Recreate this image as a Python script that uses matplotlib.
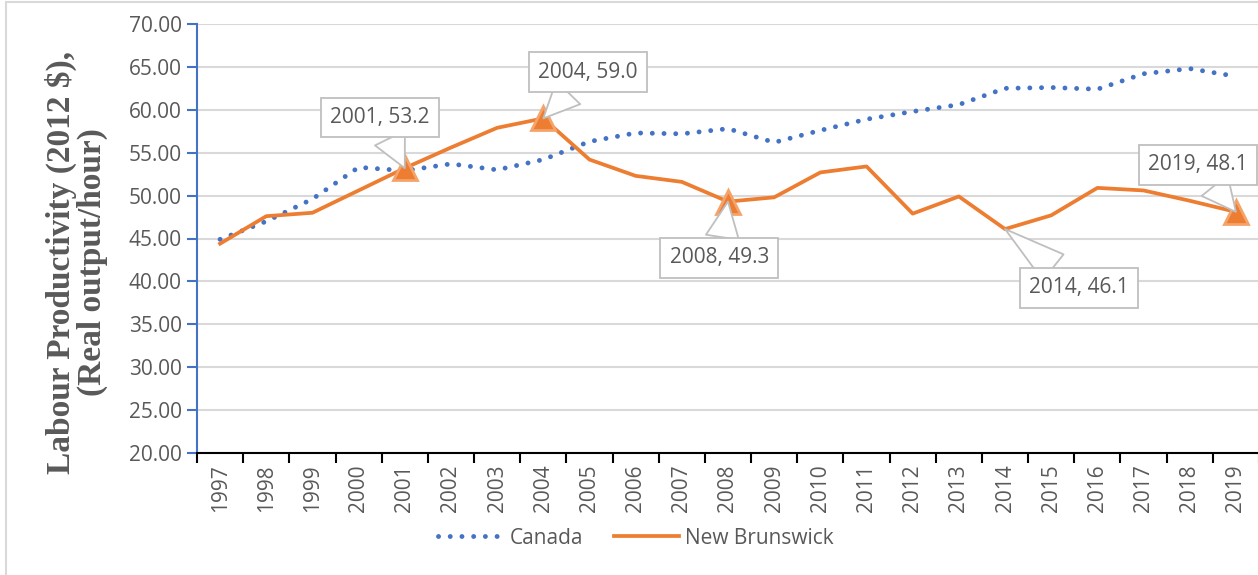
import matplotlib.pyplot as plt
from matplotlib.patches import Rectangle
import numpy as np

years = list(range(1997, 2020))
canada = [44.9, 47.0, 49.6, 53.3, 52.9, 53.7, 53.0, 54.2, 56.3, 57.3, 57.2, 57.8,
          56.2, 57.6, 58.9, 59.8, 60.6, 62.5, 62.6, 62.4, 64.2, 64.8, 63.9]
new_brunswick = [44.4, 47.6, 48.0, 50.6, 53.2, 55.6, 57.9, 59.0, 54.2, 52.3, 51.6, 49.3,
                 49.8, 52.7, 53.4, 47.9, 49.9, 46.1, 47.7, 50.9, 50.6, 49.4, 48.1]
marked_years = [2001, 2004, 2008, 2019]
callout_years = [2001, 2004, 2008, 2014, 2019]
# box centre (x in category units, y in data units)
callout_pos = [(3.46, 59.1), (7.97, 64.4), (10.81, 42.75), (18.6, 39.24), (21.18, 53.57)]

BLUE = '#4472C4'
ORANGE = '#ED7D31'
GREY_TXT = '#595959'
tick_font = 'Open Sans'

W, H = 1258, 575
fig = plt.figure(figsize=(W / 100, H / 100), dpi=100)
ax = fig.add_axes([197 / W, 1 - 453 / H, (1259 - 197) / W, (453 - 24) / H])

x = np.arange(len(years))
ax.plot(x, canada, color=BLUE, lw=3.5, linestyle=(0, (0.01, 2.4)),
        dash_capstyle='round', label='Canada', zorder=3)
ax.plot(x, new_brunswick, color=ORANGE, lw=2.7, label='New Brunswick', zorder=3)

mi = [years.index(y) for y in marked_years]
ax.plot(x[mi], [new_brunswick[i] for i in mi], linestyle='none', marker='^',
        markersize=17, color=ORANGE, markeredgecolor='#F4A46A', markeredgewidth=2,
        zorder=4)

for yr, (bx, by) in zip(callout_years, callout_pos):
    i = years.index(yr)
    ax.annotate(f'{yr}, {new_brunswick[i]:.1f}', xy=(i, new_brunswick[i]),
                xytext=(bx, by), ha='center', va='center', fontsize=15,
                family=tick_font, color=GREY_TXT, zorder=5,
                bbox=dict(boxstyle='square,pad=0.45', fc='white', ec='#bfbfbf', lw=1.3),
                arrowprops=dict(arrowstyle='wedge,tail_width=1.6,shrink_factor=0.5',
                                fc='white', ec='#bfbfbf', lw=1.3, shrinkA=0, shrinkB=0))

ax.set_xlim(-0.5, len(years) - 0.5)
ax.set_ylim(20, 70)
ax.set_yticks(np.arange(20, 71, 5))
ax.set_yticklabels([f'{v:.2f}' for v in np.arange(20, 71, 5)])
ax.set_xticks(x)
ax.set_xticklabels([str(y) for y in years], rotation=90)
ax.set_xticks(np.arange(-0.5, len(years), 1), minor=True)
ax.tick_params(axis='x', which='major', length=0, pad=8, labelsize=15, labelcolor=GREY_TXT)
ax.tick_params(axis='x', which='minor', length=7, width=1.5, color='black')
ax.tick_params(axis='y', length=7, width=1.5, color=BLUE, labelsize=15,
               labelcolor=GREY_TXT, pad=4)
for lab in ax.get_xticklabels() + ax.get_yticklabels():
    lab.set_family(tick_font)

ax.grid(axis='y', color='#d9d9d9', lw=1.5)
ax.set_axisbelow(True)
for s in ['top', 'right']:
    ax.spines[s].set_visible(False)
ax.spines['left'].set_color(BLUE)
ax.spines['left'].set_linewidth(1.5)
ax.spines['bottom'].set_color('black')
ax.spines['bottom'].set_linewidth(1.5)

ax.set_ylabel('Labour Productivity (2012 $),\n(Real output/hour)', family='Liberation Serif',
              fontweight='bold', fontsize=24, color=GREY_TXT, linespacing=1.0)
ax.yaxis.set_label_coords((108 - 197) / 1062, (453 - 262) / 429)

fig.legend(loc='center', bbox_to_anchor=(636 / W, 1 - 538 / H), ncol=2, frameon=False,
           prop={'family': tick_font, 'size': 15}, labelcolor=GREY_TXT,
           handlelength=3.1, columnspacing=1.5, handletextpad=0.3)

fig.patches.append(Rectangle((6 / W, -0.01), 1.0, 1 - 2 / H + 0.01, transform=fig.transFigure,
                             fill=False, ec='#d9d9d9', lw=1.5))

fig.savefig('out.png', dpi=100)
